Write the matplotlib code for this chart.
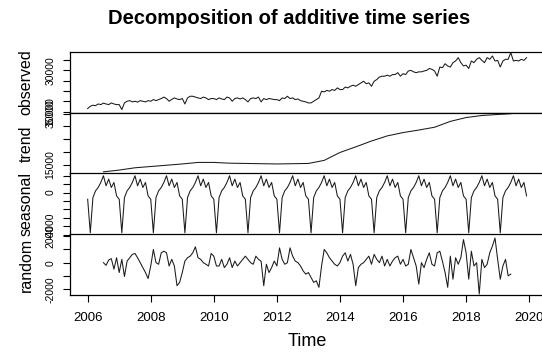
import numpy as np
import matplotlib.pyplot as plt

plt.rcParams['font.family'] = ['Liberation Sans', 'DejaVu Sans']

# monthly observed series, Jan 2006 - Dec 2019 (one row per year)
observed = [
    11600, 12700, 13200, 13000, 13800, 13500, 14200, 13800, 13500, 14300, 13800, 13500,
    13500, 11100, 14300, 15100, 15400, 14800, 15100, 14700, 15400, 15100, 14800, 15400,
    15100, 15900, 15400, 15900, 16400, 17100, 16400, 15100, 16000, 16700, 16200, 15900,
    16400, 13800, 16700, 17500, 17500, 17100, 16700, 16400, 17100, 16700, 15900, 16400,
    16400, 15900, 16700, 16200, 15900, 17100, 16700, 15100, 16400, 16700, 16200, 16700,
    15900, 14800, 16400, 16700, 16400, 17100, 14800, 16400, 15900, 16400, 16200, 15900,
    15900, 15400, 16700, 16400, 17500, 16400, 16700, 15900, 16200, 15400, 15100, 14800,
    14300, 14300, 15100, 15900, 16700, 19900, 19600, 20300, 19900, 20700, 20300, 21500,
    20700, 20700, 21900, 21500, 22300, 22800, 22300, 23100, 23900, 24700, 23500, 23900,
    22300, 24700, 25500, 26700, 27100, 27100, 27600, 27100, 27900, 27900, 28800, 27100,
    28300, 27900, 29600, 29900, 29200, 28800, 29200, 29200, 29600, 29900, 30800, 30400,
    29600, 27100, 31500, 31200, 33100, 32000, 31500, 33600, 34400, 36000, 33600, 32000,
    32400, 30800, 34400, 33600, 35200, 36000, 34700, 33600, 36000, 35200, 36800, 34400,
    34700, 31500, 34400, 35200, 35200, 38400, 34400, 34700, 34400, 35200, 34700, 36000,
]

# seasonal figure, Jan..Dec (repeats every year)
seasonal_cycle = [-800, -4800, -600, 200, 600, 1200, 2000, 800, 1600, 600, 1200, -400]

# trend read at half-year steps
trend_years = [2006.5, 2007.0, 2007.5, 2008.0, 2008.5, 2009.0, 2009.5, 2010.0, 2010.5,
               2011.0, 2011.5, 2012.0, 2012.5, 2013.0, 2013.5, 2014.0, 2014.5, 2015.0,
               2015.5, 2016.0, 2016.5, 2017.0, 2017.5, 2018.0, 2018.5, 2019.0, 2019.42]
trend_values = [12200, 12900, 13800, 14300, 14800, 15300, 15900, 15900, 15600,
                15500, 15400, 15300, 15400, 15500, 16700, 19800, 22000, 24300,
                26300, 27600, 28600, 29700, 32000, 33500, 34300, 34700, 35000]

# random component, Jul 2006 - Jun 2019
random_values = [
    0, -200, 200, 300, -490, 370, -740, 250, -1040, 120, 370, 620,
    690, 370, 0, -370, -740, -1190, -250, 990, 0, -120, 740, 860,
    740, -250, 250, -250, -1730, -1480, -740, 120, 370, 490, 740, 1190,
    370, 250, 0, -120, -250, 690, 490, -250, -250, 250, -370, -120,
    370, -370, 120, -250, 0, 250, 490, 250, 0, -120, 490, 250, 100,
    -1730, -120, -740, -370, 120, -250, 1110, 250, -120, 0, 1110, 490,
    120, 0, -250, -620, -860, -740, -1110, -1480, -1360, -1850, -250, 990,
    740, 370, 120, -120, -250, 0, 490, 740, 120, 620, -120, -1730,
    -370, -120, 0, 250, 490, -120, 620, 250, 0, 490, -250, 250,
    -250, 120, 370, 490, -120, 250, -250, -120, 990, 370, -250, -1610,
    0, -370, 250, 740, -120, -250, 740, 860, 100, -740, -1850, 490, -1240,
    370, -120, 370, 1730, 740, -1240, 860, -250, 0, -2350, 250, -370,
    -120, 740, 1240, 1850, 250, -1240, -250, 250, -990, -860,
]

year_ticks = [2006, 2008, 2010, 2012, 2014, 2016, 2018, 2020]

obs_t = 2006 + np.arange(len(observed)) / 12
seas = np.tile(seasonal_cycle, len(observed) // 12)
rand_t = 2006.5 + np.arange(len(random_values)) / 12

fig = plt.figure(figsize=(5.42, 3.55), dpi=100)

W, H = 542.0, 355.0
left = 70 / W
width = 474 / W
tops = [51.7, 112.7, 173.3, 234.0]
ph = 61.2

names = ['observed', 'trend', 'seasonal', 'random']
series = [(obs_t, observed), (trend_years, trend_values), (obs_t, seas), (rand_t, random_values)]
ylims = [(9520, 38850), (11400, 35400), (-4940, 2290), (-2440, 2150)]
ticks = [np.arange(10000, 35001, 5000), np.arange(15000, 35001, 5000),
         np.arange(-5000, 2001, 1000), np.arange(-2000, 2001, 1000)]
shown = [[10000, 30000], [15000, 35000], [0, -4000], [-2000, 0, 2000]]

axes = []
for i in range(4):
    ax = fig.add_axes([left, 1 - (tops[i] + ph) / H, width, ph / H])
    x, y = series[i]
    ax.plot(x, y, color='#1a1a1a', lw=0.75)
    ax.set_xlim(2005.44, 2020.47)
    ax.set_ylim(*ylims[i])
    ax.set_yticks(ticks[i])
    ax.set_yticklabels([str(int(t)) if t in shown[i] else '' for t in ticks[i]])
    ax.tick_params(axis='y', direction='out', length=5, width=0.8, pad=5.5, labelsize=7.5)
    plt.setp(ax.get_yticklabels(), rotation=90, va='center')
    for s in ax.spines.values():
        s.set_linewidth(0.9)
    if i < 3:
        ax.set_xticks([])
    else:
        ax.set_xticks(year_ticks)
        ax.tick_params(axis='x', direction='out', length=5, width=0.8, pad=7, labelsize=9.5)
    fig.text(26 / W, 1 - (tops[i] + ph / 2) / H, names[i], rotation=90,
             ha='center', va='center', fontsize=11.5)
    axes.append(ax)

fig.text(289 / W, 1 - 18 / H, 'Decomposition of additive time series',
         ha='center', va='center', fontsize=14.5, fontweight='bold')
fig.text(307 / W, 1 - 342 / H, 'Time', ha='center', va='center', fontsize=13)

fig.savefig('out.png', dpi=100)
